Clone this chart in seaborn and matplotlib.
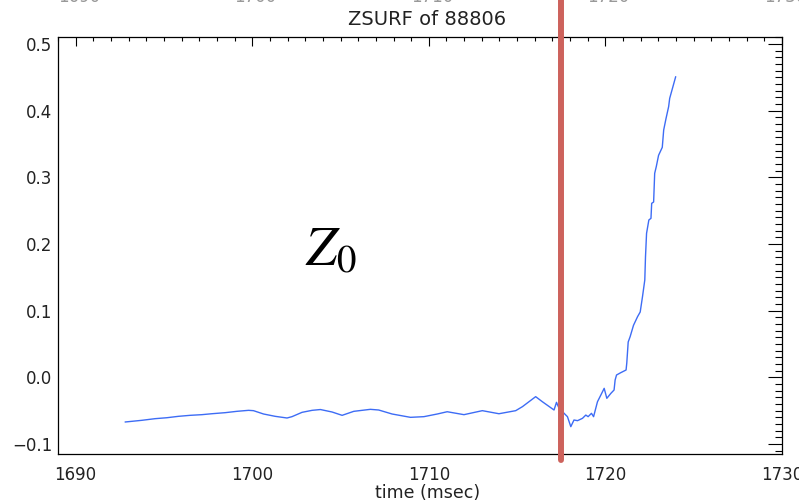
import matplotlib
matplotlib.use("Agg")
import matplotlib.pyplot as plt
import matplotlib.transforms as mtransforms
from matplotlib.ticker import MultipleLocator
import numpy as np
import pandas as pd
import seaborn as sns

# ZSURF trace for shot 88806
time_ms = [
    1692.80, 1693.74, 1694.50, 1695.16, 1695.82, 1696.48, 1697.15, 1697.71,
    1698.47, 1699.13, 1699.79, 1700.07, 1700.64, 1701.30, 1701.97, 1702.25,
    1702.82, 1703.39, 1703.86, 1704.52, 1705.09, 1705.75, 1706.69, 1707.16,
    1707.92, 1708.96, 1709.72, 1710.48, 1711.04, 1711.99, 1713.03, 1713.97,
    1714.92, 1715.30, 1716.05, 1716.43, 1717.09, 1717.23, 1717.35, 1717.66,
    1717.85, 1718.04, 1718.22, 1718.42, 1718.70, 1718.89, 1719.02, 1719.21,
    1719.33, 1719.55, 1719.74, 1719.93, 1720.08, 1720.31, 1720.49, 1720.55,
    1720.63, 1720.87, 1721.17, 1721.21, 1721.29, 1721.40, 1721.59, 1721.82,
    1721.97, 1722.10, 1722.23, 1722.27, 1722.33, 1722.46, 1722.58, 1722.62,
    1722.73, 1722.79, 1722.88, 1723.01, 1723.22, 1723.30, 1723.43, 1723.58,
    1723.64, 1723.98,
]
zsurf = [
    -0.0670, -0.0645, -0.0620, -0.0606, -0.0585, -0.0570, -0.0560, -0.0546,
    -0.0530, -0.0510, -0.0495, -0.0500, -0.0550, -0.0585, -0.0610, -0.0590,
    -0.0525, -0.0495, -0.0483, -0.0520, -0.0570, -0.0510, -0.0480, -0.0490,
    -0.0550, -0.0600, -0.0590, -0.0550, -0.0516, -0.0560, -0.0500, -0.0546,
    -0.0500, -0.0440, -0.0290, -0.0366, -0.0490, -0.0375, -0.0450, -0.0540,
    -0.0590, -0.0740, -0.0640, -0.0650, -0.0615, -0.0566, -0.0590, -0.0540,
    -0.0590, -0.0366, -0.0266, -0.0165, -0.0315, -0.0240, -0.0190, -0.0040,
    0.0035, 0.0070, 0.0110, 0.0215, 0.0530, 0.0610, 0.0780, 0.0910,
    0.0980, 0.1210, 0.1460, 0.1810, 0.2160, 0.2360, 0.2385, 0.2610,
    0.2630, 0.3060, 0.3160, 0.3330, 0.3450, 0.3710, 0.3880, 0.4060,
    0.4185, 0.4510,
]

# Marker time of the event
event_time = 1717.5

x_ticks = [1690, 1700, 1710, 1720, 1730]
x_tick_labels = ["1690", "1700", "1710", "1720", "1730"]
y_ticks = [-0.1, 0.0, 0.1, 0.2, 0.3, 0.4, 0.5]
y_tick_labels = ["\u22120.1", "0.0", "0.1", "0.2", "0.3", "0.4", "0.5"]

title_text = "ZSURF of 88806"
x_label = "time (msec)"
annotation = r"$Z_0$"

sns.set_style("white")
plt.rcParams["font.family"] = ["DejaVu Sans"]
plt.rcParams["mathtext.fontset"] = "stix"

W, H = 799, 501
fig = plt.figure(figsize=(W / 100, H / 100), dpi=100)
fig.patch.set_facecolor("white")
ax = fig.add_axes([58 / W, (H - 454) / H, (782 - 58) / W, (454 - 37) / H])

df = pd.DataFrame({"time": time_ms, "zsurf": zsurf})
sns.lineplot(data=df, x="time", y="zsurf", ax=ax, color="#3d6cf5",
             linewidth=1.0, estimator=None, sort=False)

ax.set_xlim(1689, 1730)
ax.set_ylim(-0.115, 0.5105)
ax.set_ylabel("")

text_col = "#222222"
ax.set_xticks(x_ticks)
ax.set_xticklabels(x_tick_labels)
ax.set_yticks(y_ticks)
ax.set_yticklabels(y_tick_labels)
ax.xaxis.set_minor_locator(MultipleLocator(1))
ax.yaxis.set_minor_locator(MultipleLocator(0.01))

ax.tick_params(axis="both", which="both", direction="in", colors="black",
               labelcolor=text_col, labelsize=12, width=0.8,
               top=True, right=True)
ax.tick_params(axis="x", which="major", length=6.5, pad=9)
ax.tick_params(axis="x", which="minor", length=3)
ax.tick_params(axis="y", which="major", length=10, pad=4)
ax.tick_params(axis="y", which="minor", length=5)

for s in ax.spines.values():
    s.set_visible(True)
    s.set_color("black")
    s.set_linewidth(0.9)

ax.set_xlabel(x_label, fontsize=12.5, color=text_col, va="center")
ax.xaxis.set_label_coords(0.51, -0.0935)
ax.set_title(title_text, fontsize=14, color=text_col, x=0.51, y=1.0408,
             va="center", pad=0)

# Event marker, running past the plot frame
ax.axvline(event_time, ymin=-0.015, ymax=1.1, color="#cd625c",
           linewidth=4.3, clip_on=False, zorder=10)

ax.text(1703.0, 0.168, annotation, fontsize=40, color="black",
        ha="left", va="baseline")

# Tick labels of the panel above, cut by the page edge
trans = mtransforms.blended_transform_factory(ax.transData, fig.transFigure)
for xv, lab in zip(x_ticks, x_tick_labels):
    ax.text(xv + 0.18, 1 - 1.5 / H, lab, transform=trans, fontsize=12,
            color="#999999", ha="center", va="baseline", clip_on=False)

fig.savefig("out.png", dpi=100, facecolor="white")
